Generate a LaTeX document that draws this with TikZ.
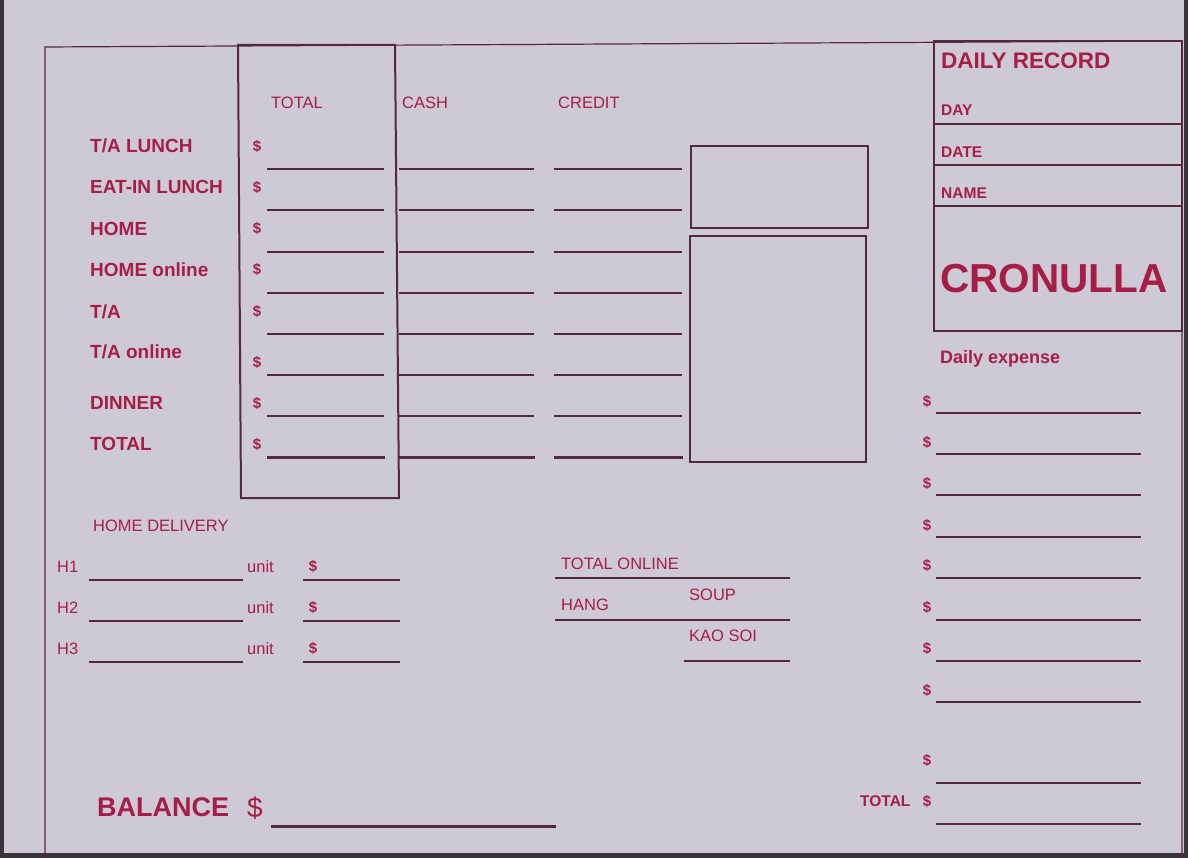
\documentclass[tikz,border=0pt]{standalone}
\usepackage{fontspec}
\setmainfont{Liberation Sans}
\usetikzlibrary{positioning}
\definecolor{desk}{RGB}{58,52,58}
\definecolor{paper}{RGB}{205,202,214}
\definecolor{ink}{RGB}{166,30,70}
\definecolor{rulecol}{RGB}{84,42,58}

\begin{document}
\begin{tikzpicture}[x=1pt,y=-1pt]
\tikzstyle{head} = [anchor=west, inner sep=0pt, text depth=0pt, text=ink, font=\fontsize{16.5}{18}\selectfont]
\tikzstyle{item} = [head, font=\fontsize{19}{21}\selectfont\bfseries]
\tikzstyle{small} = [head, font=\fontsize{15.5}{17}\selectfont\bfseries]
\tikzstyle{dollar} = [head, anchor=center, font=\fontsize{15}{17}\selectfont\bfseries]
\tikzstyle{entry} = [draw=rulecol, line width=1.4pt]
\tikzstyle{thickentry} = [draw=rulecol, line width=3pt]
\tikzstyle{box} = [draw=rulecol, line width=2pt]

\useasboundingbox (0,0) rectangle (1188,858);
\fill[desk] (0,0) rectangle (1188,858);
\fill[paper] (4,0) rectangle (1184,853);
% frame
\draw[rulecol, line width=1.2pt] (45,858) -- (45,47) -- (1182,41) -- (1182,858);
\draw[box] (238,45) -- (395,45) -- (399,498) -- (241,498) -- cycle;
\draw[box] (691,146) rectangle (868,228);
\draw[box] (690,236) rectangle (866,462);

% column heads
\node[head, anchor=center] (total) at (297,103) {TOTAL};
\node[head] (cash) at (402,103) {CASH};
\node[head] (credit) at (558,103) {CREDIT};

% rows
\node[item] (talunch) at (90,146) {T/A LUNCH};
\node[item] (eatin) at (90,187) {EAT-IN LUNCH};
\node[item] (home) at (90,229) {HOME};
\node[item] (homeonline) at (90,270) {HOME online};
\node[item] (ta) at (90,312) {T/A};
\node[item] (taonline) at (90,352) {T/A online};
\node[item] (dinner) at (90,403) {DINNER};
\node[item] (sum) at (90,444) {TOTAL};
\node[dollar] (s1) at (257,146) {\$};
\node[dollar] (s2) at (257,187) {\$};
\node[dollar] (s3) at (257,228) {\$};
\node[dollar] (s4) at (257,269) {\$};
\node[dollar] (s5) at (257,311) {\$};
\node[dollar] (s6) at (257,362) {\$};
\node[dollar] (s7) at (257,403) {\$};
\node[dollar] (s8) at (257,444) {\$};
\draw[entry] (267,169) -- (384,169) (399,169) -- (534,169) (554,169) -- (682,169);
\draw[entry] (267,210) -- (384,210) (399,210) -- (534,210) (554,210) -- (682,210);
\draw[entry] (267,252) -- (384,252) (399,252) -- (534,252) (554,252) -- (682,252);
\draw[entry] (267,293) -- (384,293) (399,293) -- (534,293) (554,293) -- (682,293);
\draw[entry] (267,334) -- (384,334) (399,334) -- (534,334) (554,334) -- (682,334);
\draw[entry] (267,375) -- (384,375) (399,375) -- (534,375) (554,375) -- (682,375);
\draw[entry] (267,416) -- (384,416) (399,416) -- (534,416) (554,416) -- (682,416);
\draw[thickentry] (267,457) -- (385,457) (399,457) -- (535,457) (554,457) -- (683,457);

% daily record
\draw[box] (934,41) rectangle (1182,331);
\draw[entry] (934,124) -- (1182,124) (934,165) -- (1182,165) (934,206) -- (1182,206);
\node[item, font=\fontsize{22.5}{24}\selectfont\bfseries] (record) at (941,61) {DAILY RECORD};
\node[small] (day) at (941,110) {DAY};
\node[small] (date) at (941,152) {DATE};
\node[small] (name) at (941,193) {NAME};
\node[item, font=\fontsize{40.5}{42}\selectfont\bfseries] (shop) at (940,278) {CRONULLA};
\node[item, font=\fontsize{18}{20}\selectfont\bfseries] (expense) at (940,357) {Daily expense};

% expenses
\node[dollar] (e1) at (927,401) {\$};
\node[dollar] (e2) at (927,442) {\$};
\node[dollar] (e3) at (927,483) {\$};
\node[dollar] (e4) at (927,525) {\$};
\node[dollar] (e5) at (927,565) {\$};
\node[dollar] (e6) at (927,607) {\$};
\node[dollar] (e7) at (927,648) {\$};
\node[dollar] (e8) at (927,690) {\$};
\node[dollar] (e9) at (927,760) {\$};
\node[dollar] (e10) at (927,801) {\$};
\node[small] (etotal) at (860,801) {TOTAL};
\draw[entry] (936,413) -- (1141,413) (936,454) -- (1141,454) (936,495) -- (1141,495) (936,537) -- (1141,537);
\draw[entry] (936,578) -- (1141,578) (936,620) -- (1141,620) (936,661) -- (1141,661) (936,702) -- (1141,702);
\draw[entry] (936,783) -- (1141,783) (936,824) -- (1141,824);

% home delivery
\node[head] (delivery) at (93,526) {HOME DELIVERY};
\node[head] (h1) at (57,567) {H1};
\node[head] (h2) at (57,608) {H2};
\node[head] (h3) at (57,649) {H3};
\node[head] (u1) at (247,567) {unit};
\node[head] (u2) at (247,608) {unit};
\node[head] (u3) at (247,649) {unit};
\node[dollar] (p1) at (313,566) {\$};
\node[dollar] (p2) at (313,607) {\$};
\node[dollar] (p3) at (313,648) {\$};
\draw[entry] (89,580) -- (243,580) (303,580) -- (400,580);
\draw[entry] (89,621) -- (243,621) (303,621) -- (400,621);
\draw[entry] (89,662) -- (243,662) (303,662) -- (400,662);

% online
\node[head] (online) at (561,564) {TOTAL ONLINE};
\node[head] (soup) at (689,595) {SOUP};
\node[head] (hang) at (561,605) {HANG};
\node[head] (kaosoi) at (689,636) {KAO SOI};
\draw[entry] (555,578) -- (790,578) (555,620) -- (790,620) (684,661) -- (790,661);

% balance
\node[item, font=\fontsize{27}{29}\selectfont\bfseries] (balance) at (97,807) {BALANCE};
\node[head, font=\fontsize{28}{30}\selectfont] (bdollar) at (247,807) {\$};
\draw[thickentry] (271,826) -- (556,826);
\end{tikzpicture}
\end{document}
